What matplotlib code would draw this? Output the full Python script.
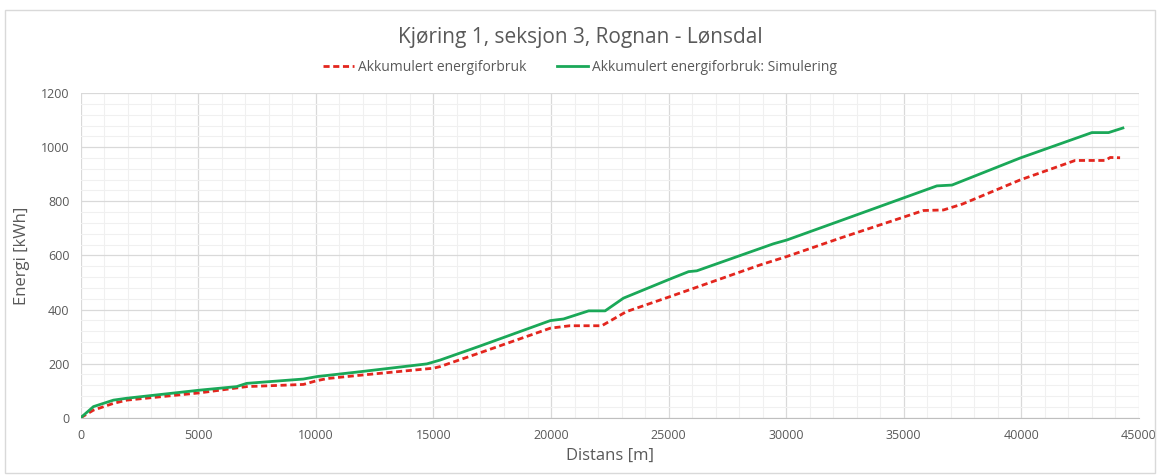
import matplotlib
matplotlib.use("Agg")
import matplotlib.pyplot as plt
from matplotlib.ticker import MultipleLocator
from matplotlib.patches import Rectangle
from matplotlib import font_manager

# Data
dist_meas = [0, 540, 1390, 1960, 5070, 6630, 7060, 9470, 10040, 10500, 11880, 15000, 15280,
             16980, 19970, 20800, 22160, 23200, 25070, 28900, 30030, 32300, 35840,
             36690, 37500, 39950, 42290, 43570, 43780, 44200]
energy_meas = [0, 28, 53, 65, 92, 110, 115, 123, 137, 145, 157, 183, 189,
               240, 331, 340, 340, 392, 448, 565, 596, 664, 766,
               768, 790, 879, 951, 951, 962, 961]

dist_sim = [0, 540, 1390, 1960, 5070, 6630, 7060, 9470, 10040, 11880, 14720, 15000, 15280,
            16980, 19970, 20530, 21600, 22300, 23080, 25070, 25850, 26200, 29460, 30030,
            32300, 36410, 37050, 39950, 43000, 43710, 44320]
energy_sim = [0, 41, 65, 72, 102, 115, 127, 143, 152, 170, 199, 206, 213,
              265, 359, 365, 395, 395, 442, 513, 540, 543, 643, 657,
              728, 857, 860, 960, 1054, 1054, 1071]

title = "Kjøring 1, seksjon 3, Rognan - Lønsdal"
label_meas = "Akkumulert energiforbruk"
label_sim = "Akkumulert energiforbruk: Simulering"
xlabel = "Distans [m]"
ylabel = "Energi [kWh]"

avail = {f.name for f in font_manager.fontManager.ttflist}
fam = "Liberation Sans Narrow" if "Liberation Sans Narrow" in avail else "Open Sans"
plt.rcParams["font.family"] = [fam, "DejaVu Sans"]

text_col = "#595959"
fig = plt.figure(figsize=(11.6, 4.75), dpi=100)
fig.patches.append(Rectangle((0.004, 0.004), 0.992, 0.976, transform=fig.transFigure,
                             fill=False, edgecolor="#D9D9D9", linewidth=1))
ax = fig.add_axes([0.0696, 0.1206, 0.9122, 0.6834])

ax.plot(dist_meas, energy_meas, color="#E3261E", linestyle=(0, (2.2, 1.3)), linewidth=2.0,
        label=label_meas, zorder=3)
ax.plot(dist_sim, energy_sim, color="#1AA858", linestyle="-", linewidth=2.0,
        label=label_sim, zorder=4)

ax.set_xlim(0, 45000)
ax.set_ylim(0, 1200)
ax.xaxis.set_major_locator(MultipleLocator(5000))
ax.xaxis.set_minor_locator(MultipleLocator(1000))
ax.yaxis.set_major_locator(MultipleLocator(200))
ax.yaxis.set_minor_locator(MultipleLocator(40))
ax.grid(which="major", color="#D9D9D9", linewidth=0.9)
ax.grid(which="minor", color="#F0F0F0", linewidth=0.8)
ax.set_axisbelow(True)
for s in ["top", "right", "left"]:
    ax.spines[s].set_visible(False)
ax.spines["bottom"].set_color("#BFBFBF")
ax.tick_params(which="both", length=0, colors=text_col, labelsize=9, pad=8)

ax.set_xlabel(xlabel, color=text_col, fontsize=12, labelpad=4)
ax.set_ylabel(ylabel, color=text_col, fontsize=12, labelpad=8)

fig.text(0.5, 0.922, title, ha="center", va="center", fontsize=15, color=text_col)
leg = fig.legend(loc="center", bbox_to_anchor=(0.5, 0.858), ncol=2, frameon=False,
                 fontsize=10, handlelength=2.2, columnspacing=2.2, handletextpad=0.3)
for t in leg.get_texts():
    t.set_color(text_col)

fig.savefig("out.png", dpi=100)
